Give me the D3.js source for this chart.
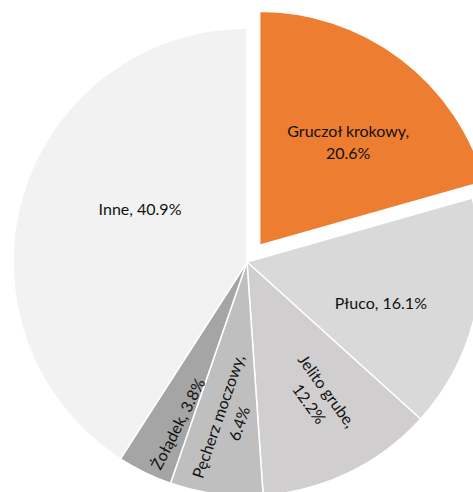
<!DOCTYPE html>
<html><head><meta charset="utf-8">
<script src="https://cdn.jsdelivr.net/npm/d3@7/dist/d3.min.js"></script>
<style>html,body{margin:0;padding:0;background:#fff;overflow:hidden}</style>
</head><body>
<svg id="chart" width="473" height="492"></svg>
<script>
const categories = ["Gruczoł krokowy", "Płuco", "Jelito grube", "Pęcherz moczowy", "Żołądek", "Inne"];
const values = [20.6, 16.1, 12.2, 6.4, 3.8, 40.9];
const labelLines = [["Gruczoł krokowy,", "20.6%"], ["Płuco, 16.1%"], ["Jelito grube,", "12.2%"], ["Pęcherz moczowy,", "6.4%"], ["Żołądek, 3.8%"], ["Inne, 40.9%"]];

const colors = ["#ED7D31", "#D9D9D9", "#D0CECE", "#BFBFBF", "#A5A5A5", "#F2F2F2"];
const explode = [21, 0, 0, 0, 0, 0];
// label layout: [angle (deg, clockwise from top), radius, rotation]
const labelLayout = [[40.6, 136, 0], [107, 140, 0], [152.4, 153, 54], [186.5, 159, -71], [203, 176, -63], [296, 119, 0]];

const cx = 247, cy = 262, R = 234;
const svg = d3.select("#chart");
const g = svg.append("g").attr("transform", `translate(${cx},${cy})`);

const pie = d3.pie().sort(null).value(d => d)(values);
const arc = d3.arc().innerRadius(0).outerRadius(R);

pie.forEach((p, i) => {
  const mid = (p.startAngle + p.endAngle) / 2;
  const dx = explode[i] * Math.sin(mid), dy = -explode[i] * Math.cos(mid);
  g.append("path")
    .attr("d", arc(p))
    .attr("transform", `translate(${dx},${dy})`)
    .attr("fill", colors[i])
    .attr("stroke", "#fff")
    .attr("stroke-width", 1.5)
    .attr("stroke-linejoin", "round");

  const [adeg, r, rot] = labelLayout[i];
  const a = adeg * Math.PI / 180;
  const lx = dx + r * Math.sin(a), ly = dy - r * Math.cos(a);
  const lines = labelLines[i];
  const lh = 22;
  const t = g.append("text")
    .attr("transform", `translate(${lx},${ly}) rotate(${rot})`)
    .attr("text-anchor", "middle")
    .attr("font-family", "Lato, 'Open Sans', sans-serif")
    .attr("font-size", 16)
    .attr("fill", "#111");
  lines.forEach((ln, k) => {
    t.append("tspan").attr("x", 0)
      .attr("y", (k - (lines.length - 1) / 2) * lh)
      .attr("dy", "0.35em")
      .text(ln);
  });
});
</script>
</body></html>
